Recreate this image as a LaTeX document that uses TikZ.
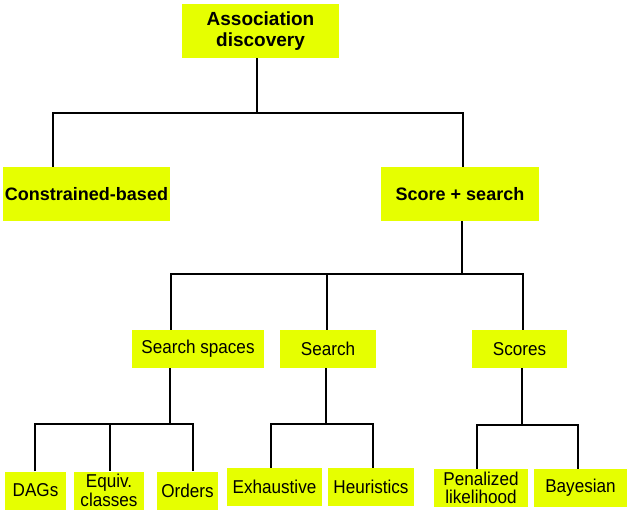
\documentclass[tikz,border=0pt]{standalone}
\usepackage{fontspec}
\setmainfont{Liberation Sans}
\newfontfamily\leaffont{Liberation Sans}[FakeStretch=0.92]
\usepackage{xcolor}
\usetikzlibrary{positioning}
\definecolor{boxfill}{RGB}{230,255,0}

\begin{document}
\begin{tikzpicture}[
  x=1pt, y=-1pt,
  box/.style={fill=boxfill, inner sep=0pt, align=center,
              font=\leaffont\fontsize{18.6}{18.5}\selectfont},
  head/.style={box, minimum height=54pt, font=\bfseries\fontsize{18}{21}\selectfont},
  leaf/.style={box, minimum height=38pt},
  link/.style={draw=black, line width=1.1pt}
]
  \useasboundingbox (0,0) rectangle (630,513);

  \node[head, minimum width=157pt, font=\bfseries\fontsize{19}{21}\selectfont]
        (assoc)  at (260.5,31)  {Association\\discovery};
  \node[head, minimum width=167pt] (constr) at (86.5,194) {Constrained-based};
  \node[head, minimum width=158pt] (score)  at (460,194)  {Score + search};

  \node[leaf, minimum width=132pt] (spaces) at (198,349)   {Search spaces};
  \node[leaf, minimum width=96pt]  (search) at (328,349)   {Search};
  \node[leaf, minimum width=95pt]  (scores) at (519.5,349) {Scores};

  \node[leaf, minimum width=61pt]  (dags)   at (35.5,490.5)  {DAGs};
  \node[leaf, minimum width=70pt]  (equiv)  at (109,490.5)   {Equiv.\\classes};
  \node[leaf, minimum width=61pt]  (orders) at (187.5,490.5) {Orders};
  \node[leaf, minimum width=95pt]  (exh)    at (274.5,487)   {Exhaustive};
  \node[leaf, minimum width=86pt]  (heur)   at (371,487)     {Heuristics};
  \node[leaf, minimum width=94pt]  (pen)    at (481,488)     {Penalized\\likelihood};
  \node[leaf, minimum width=93pt]  (bay)    at (580.5,488)   {Bayesian};

  % branch points
  \coordinate (b0)  at (257,113);
  \coordinate (b0l) at (53,113);
  \coordinate (b0r) at (463,113);
  \coordinate (b1)  at (462,274);
  \coordinate (b1l) at (171,274);
  \coordinate (b1m) at (327,274);
  \coordinate (b1r) at (523,274);
  \coordinate (b2)  at (170,424);
  \coordinate (b2l) at (35,424);
  \coordinate (b2m) at (110,424);
  \coordinate (b2r) at (193,424);
  \coordinate (b3)  at (326,424);
  \coordinate (b3l) at (271,424);
  \coordinate (b3r) at (373,424);
  \coordinate (b4)  at (522,425);
  \coordinate (b4l) at (477,425);
  \coordinate (b4r) at (578,425);

  \draw[link] (assoc.south -| b0) -- (b0);
  \draw[link] (constr.north -| b0l) -- (b0l) -- (b0r) -- (score.north -| b0r);

  \draw[link] (score.south -| b1) -- (b1);
  \draw[link] (spaces.north -| b1l) -- (b1l) -- (b1r) -- (scores.north -| b1r);
  \draw[link] (b1m) -- (search.north -| b1m);

  \draw[link] (spaces.south -| b2) -- (b2);
  \draw[link] (dags.north -| b2l) -- (b2l) -- (b2r) -- (orders.north -| b2r);
  \draw[link] (b2m) -- (equiv.north -| b2m);

  \draw[link] (search.south -| b3) -- (b3);
  \draw[link] (exh.north -| b3l) -- (b3l) -- (b3r) -- (heur.north -| b3r);

  \draw[link] (scores.south -| b4) -- (b4);
  \draw[link] (pen.north -| b4l) -- (b4l) -- (b4r) -- (bay.north -| b4r);
\end{tikzpicture}
\end{document}
